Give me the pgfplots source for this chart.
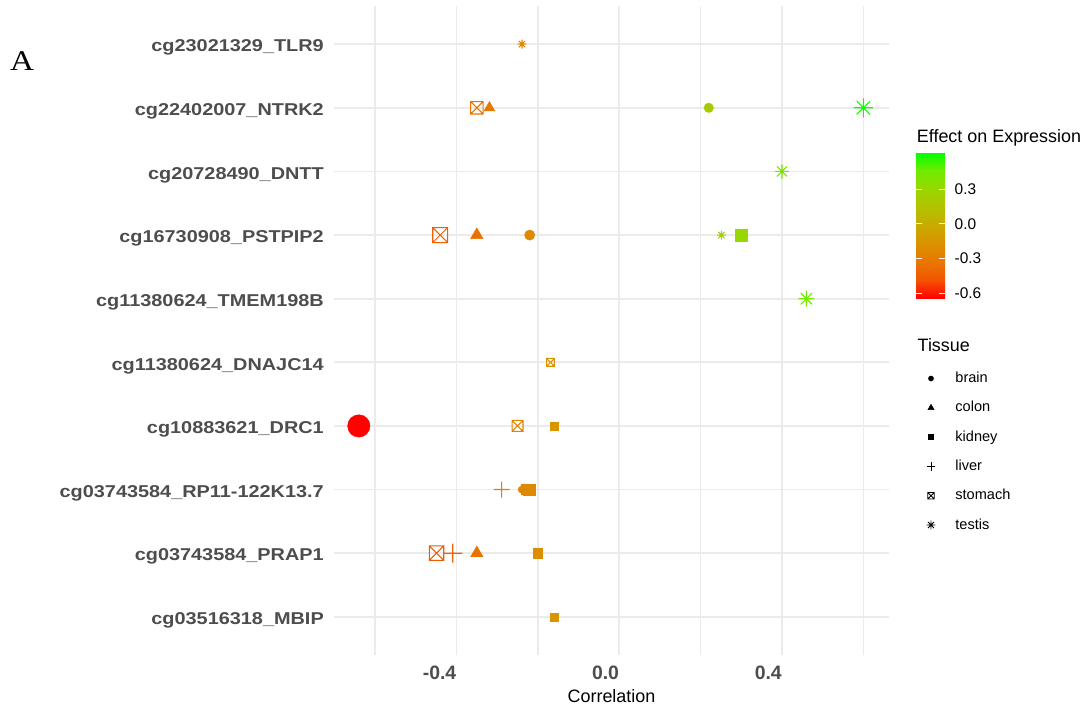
\documentclass[border=0pt]{standalone}
\usepackage{fontspec}
\setmainfont{Liberation Sans}
\newfontfamily\ylabfont{Liberation Sans}[FakeStretch=1.16]
\newfontfamily\serifA{Liberation Serif}[FakeStretch=1.16]
\usepackage{pgfplots}
\pgfplotsset{compat=1.18}
\definecolor{gridc}{HTML}{EBEBEB}
\definecolor{tickc}{HTML}{4D4D4D}

% ggplot shape 8 (eight-armed asterisk)
\pgfdeclareplotmark{ggstar}{%
  \pgfpathmoveto{\pgfqpoint{-\pgfplotmarksize}{0pt}}\pgfpathlineto{\pgfqpoint{\pgfplotmarksize}{0pt}}%
  \pgfpathmoveto{\pgfqpoint{0pt}{-\pgfplotmarksize}}\pgfpathlineto{\pgfqpoint{0pt}{\pgfplotmarksize}}%
  \pgfpathmoveto{\pgfqpoint{-0.707\pgfplotmarksize}{-0.707\pgfplotmarksize}}\pgfpathlineto{\pgfqpoint{0.707\pgfplotmarksize}{0.707\pgfplotmarksize}}%
  \pgfpathmoveto{\pgfqpoint{-0.707\pgfplotmarksize}{0.707\pgfplotmarksize}}\pgfpathlineto{\pgfqpoint{0.707\pgfplotmarksize}{-0.707\pgfplotmarksize}}%
  \pgfusepathqstroke}
% ggplot shape 3 (plus), drawn as a filled cross of bar width 1.2bp
\pgfdeclareplotmark{ggplusf}{%
  \pgfpathrectanglecorners{\pgfqpoint{-\pgfplotmarksize}{-0.6bp}}{\pgfqpoint{\pgfplotmarksize}{0.6bp}}%
  \pgfpathrectanglecorners{\pgfqpoint{-0.6bp}{-\pgfplotmarksize}}{\pgfqpoint{0.6bp}{\pgfplotmarksize}}%
  \pgfusepathqfill}
% plain plus for the legend
\pgfdeclareplotmark{ggplus}{%
  \pgfpathmoveto{\pgfqpoint{-\pgfplotmarksize}{0pt}}\pgfpathlineto{\pgfqpoint{\pgfplotmarksize}{0pt}}%
  \pgfpathmoveto{\pgfqpoint{0pt}{-\pgfplotmarksize}}\pgfpathlineto{\pgfqpoint{0pt}{\pgfplotmarksize}}%
  \pgfusepathqstroke}
% ggplot shape 7 (square with cross)
\pgfdeclareplotmark{ggsqx}{%
  \pgfpathrectanglecorners{\pgfqpoint{-\pgfplotmarksize}{-\pgfplotmarksize}}{\pgfqpoint{\pgfplotmarksize}{\pgfplotmarksize}}%
  \pgfpathmoveto{\pgfqpoint{-\pgfplotmarksize}{-\pgfplotmarksize}}\pgfpathlineto{\pgfqpoint{\pgfplotmarksize}{\pgfplotmarksize}}%
  \pgfpathmoveto{\pgfqpoint{-\pgfplotmarksize}{\pgfplotmarksize}}\pgfpathlineto{\pgfqpoint{\pgfplotmarksize}{-\pgfplotmarksize}}%
  \pgfusepathqstroke}

\pgfplotsset{
  colormap={ggrg}{rgb255(0cm)=(255,0,0); rgb255(1cm)=(244,83,0); rgb255(2cm)=(232,118,0);
    rgb255(3cm)=(218,146,0); rgb255(4cm)=(200,171,0); rgb255(5cm)=(179,194,0);
    rgb255(6cm)=(152,215,0); rgb255(7cm)=(112,235,0); rgb255(8cm)=(0,255,0)},
  ggpt/.style={scatter, only marks, forget plot, point meta=x,
    scatter/use mapped color={draw=mapped color, fill=mapped color},
    visualization depends on={#1 \as \msize},
    scatter/@pre marker code/.append style={/tikz/mark size=\msize}},
}

\newcommand\ytickfont{\ylabfont\bfseries\fontsize{17.2}{20}\selectfont}
\newcommand\xtickfont{\bfseries\fontsize{19.5}{22}\selectfont}
\newcommand\titfont{\fontsize{18}{21}\selectfont}
\newcommand\cbfont{\fontsize{15.5}{18}\selectfont}
\newcommand\itemfont{\fontsize{14.6}{17}\selectfont}

\begin{document}
\begin{tikzpicture}
\useasboundingbox (0,0) rectangle (1088bp,707bp);
\begin{axis}[
  at={(334bp,52bp)}, anchor=south west, scale only axis,
  width=555bp, height=649bp,
  xmin=-0.701, xmax=0.663, ymin=0.4, ymax=10.6,
  axis line style={draw=none},
  major tick length=0pt, minor tick length=0pt, tick style={draw=none},
  xtick={-0.4,0,0.4}, xticklabels={-0.4,0.0,0.4},
  minor xtick={-0.6,-0.2,0.2,0.6},
  ytick={1,2,3,4,5,6,7,8,9,10},
  yticklabels={cg03516318\_MBIP, cg03743584\_PRAP1, cg03743584\_RP11-122K13.7,
    cg10883621\_DRC1, cg11380624\_DNAJC14, cg11380624\_TMEM198B,
    cg16730908\_PSTPIP2, cg20728490\_DNTT, cg22402007\_NTRK2, cg23021329\_TLR9},
  grid=both,
  major grid style={draw=gridc, line width=1.8bp},
  minor grid style={draw=gridc, line width=1.3bp},
  xticklabel style={font=\xtickfont, text=tickc, anchor=north east, inner sep=0pt, yshift=-11bp},
  yticklabel style={font=\ytickfont, text=tickc, anchor=base east, inner sep=0pt, xshift=-10bp, yshift=-7.7bp},
  xlabel={Correlation},
  xlabel style={font=\titfont, at={(axis description cs:0.5,0)}, anchor=north, inner sep=0pt, yshift=-34bp},
  colormap name=ggrg,
  point meta min=-0.643, point meta max=0.617,
  colorbar,
  colorbar/width=29bp,
  colorbar style={
    at={(parent axis.north east)}, anchor=north west, xshift=18.7bp, yshift=-146.3bp,
    scale only axis, width=29bp, height=146bp,
    axis line style={draw=none},
    ytick={-0.6,-0.3,0,0.3}, yticklabels={-0.6,-0.3,0.0,0.3},
    ytick pos=both, yticklabel pos=right,
    tick align=inside, major tick length=6bp,
    tick style={draw=white, line width=1bp},
    yticklabel style={font=\cbfont, text=black, inner sep=0pt, anchor=west, xshift=9.3bp},
  },
  legend image code/.code={\path[draw=none, fill=none] (-7bp,-7bp) rectangle (7bp,7bp); \draw[#1] plot coordinates {(0bp,0bp)};},
  legend cell align=left,
  legend style={at={(axis description cs:1.0631,0.4368)}, anchor=north west,
    draw=none, fill=none, inner sep=0pt, outer sep=0pt,
    row sep=15.3bp, column sep=17.4bp, font=\itemfont,
    nodes={inner sep=0pt, text height=11bp, text depth=3bp}},
]
% stomach (square with cross)
\addplot[ggpt={\thisrow{w}/2}, mark=ggsqx, mark options={line width=1.05bp}] table {
x y w
-0.350 9 12.5
-0.440 7 15
-0.169 5 7.9
-0.250 4 11
-0.228 3 10
-0.449 2 14.5
};
% brain (circle)
\addplot[ggpt={\thisrow{w}/2}, mark=*] table {
x y w
-0.640 4 22.5
-0.220 7 10.4
0.220 9 9.6
-0.240 3 7
};
% colon (triangle)
\addplot[ggpt={\thisrow{w}/1.732}, mark=triangle*] table {
x y w
-0.319 9 11
-0.350 7 12.5
-0.350 2 12.5
};
% kidney (square)
\addplot[ggpt={\thisrow{w}/2}, mark=square*] table {
x y w
0.300 7 12.5
-0.160 4 8.2
-0.221 3 11.7
-0.200 2 9.6
-0.160 1 8.2
};
% liver (plus)
\addplot[ggpt={\thisrow{w}/2}, mark=ggplusf] table {
x y w
-0.289 3 16
-0.409 2 19
};
% testis (asterisk)
\addplot[ggpt={\thisrow{w}/2}, mark=ggstar, mark options={line width=1.1bp}] table {
x y w
-0.239 10 9
0.600 9 19
0.400 8 14.3
0.251 7 9
0.460 6 16
};
\addlegendimage{only marks, mark=*, black, mark size=2.6bp}
\addlegendentry{brain}
\addlegendimage{only marks, mark=triangle*, black, mark size=3.6bp}
\addlegendentry{colon}
\addlegendimage{only marks, mark=square*, black, mark size=2.5bp}
\addlegendentry{kidney}
\addlegendimage{only marks, mark=ggplus, black, mark size=4.3bp, mark options={line width=0.9bp}}
\addlegendentry{liver}
\addlegendimage{only marks, mark=ggsqx, black, mark size=3.2bp, mark options={line width=0.8bp}}
\addlegendentry{stomach}
\addlegendimage{only marks, mark=ggstar, black, mark size=4.3bp, mark options={line width=0.9bp}}
\addlegendentry{testis}
\end{axis}
\node[anchor=base west, inner sep=0pt, font=\titfont] at (916.7bp,564.3bp) {Effect on Expression};
\node[anchor=base west, inner sep=0pt, font=\titfont] at (917.5bp,355bp) {Tissue};
\node[anchor=base west, inner sep=0pt, font=\serifA\fontsize{28.7}{30}\selectfont] at (10bp,636.3bp) {A};
\end{tikzpicture}
\end{document}
